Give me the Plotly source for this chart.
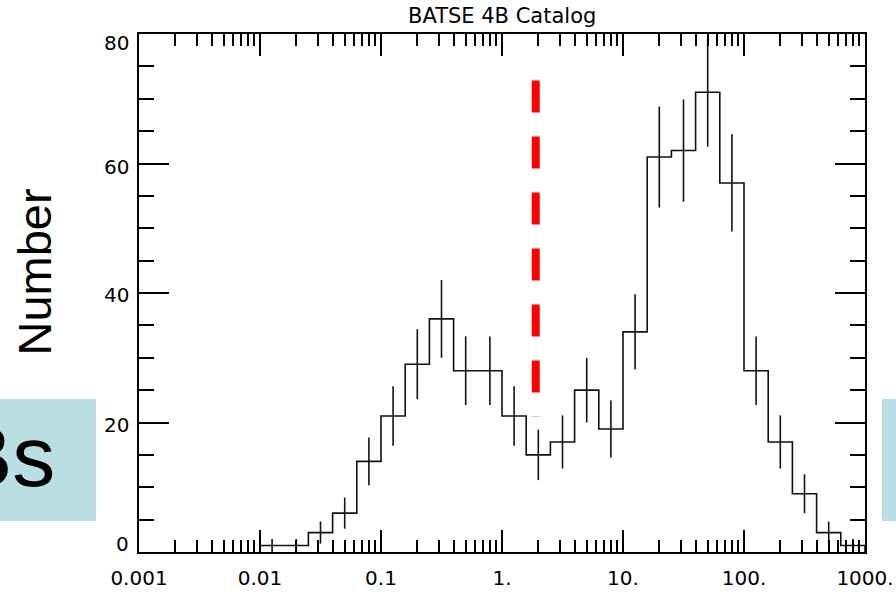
import plotly.graph_objects as go

# log10 of the T90 duration bin edges (seconds)
edge_log = [-2.0, -1.8, -1.6, -1.4, -1.2, -1.0, -0.8, -0.6, -0.4, -0.2, 0.0,
            0.2, 0.4, 0.6, 0.8, 1.0, 1.2, 1.4, 1.6, 1.8, 2.0, 2.2, 2.4, 2.6, 2.8, 3.0]
# number of bursts per bin
counts = [1, 1, 3, 6, 14, 21, 29, 36, 28, 28, 21, 15, 17, 25, 19,
          34, 61, 62, 71, 57, 28, 17, 9, 3, 1]
# Poisson uncertainty per bin
errors = [1.0, 1.0, 1.7, 2.4, 3.7, 4.6, 5.4, 6.0, 5.3, 5.3, 4.6, 3.9, 4.1, 5.0, 4.4,
          5.8, 7.8, 7.9, 8.4, 7.5, 5.3, 4.1, 3.0, 1.7, 1.0]

# short / long divide
divide_t90 = 1.9
divide_y = [72.8, 20.9]

x_tick_vals = [0.001, 0.01, 0.1, 1, 10, 100, 1000]
x_tick_text = ["0.001", "0.01", "0.1", "1.", "10.", "100.", "1000."]
y_tick_vals = [0, 20, 40, 60, 80]
y_tick_text = ["0", "20", "40", "60", "80"]

title_text = "BATSE 4B Catalog"
y_title = "Number"
side_text = "Bs"

# ---- figure geometry (pixels) ----
W, H = 896, 593
L, R, T, B = 139, 31, 34, 41
pw, ph = W - L - R, H - T - B


def px_x(px):
    return (px - L) / pw


def px_y(py):
    return (H - B - py) / ph


edges = [10 ** e for e in edge_log]
centers = [10 ** ((edge_log[i] + edge_log[i + 1]) / 2) for i in range(len(counts))]

# step outline of the histogram
step_x = [edges[0]] + edges[:-1] + [edges[-1]]
step_y = [0] + counts + [0]

fig = go.Figure()
fig.add_trace(go.Scatter(
    x=step_x, y=step_y, mode="lines", line_shape="hv",
    line=dict(color="#111111", width=1.6), hoverinfo="skip"))
fig.add_trace(go.Scatter(
    x=centers, y=counts, mode="markers",
    marker=dict(size=1, color="rgba(0,0,0,0)"),
    error_y=dict(type="data", array=errors, visible=True, width=0,
                 thickness=1.6, color="#111111")))
fig.add_trace(go.Scatter(
    x=[divide_t90, divide_t90], y=divide_y, mode="lines",
    line=dict(color="#ff0000", width=8, dash="32px,24px")))

minor_x = [m * 10.0 ** e for e in range(-3, 3) for m in range(2, 10)]
minor_y = [v for v in range(5, 80, 5) if v % 20]

tick_font = dict(family="DejaVu Sans", size=20, color="black")

fig.update_xaxes(
    type="log", range=[-3, 3], automargin=False,
    tickmode="array", tickvals=x_tick_vals, ticktext=x_tick_text,
    ticks="inside", ticklen=22, tickwidth=1.5, tickcolor="black",
    ticklabelstandoff=7,
    showline=True, linecolor="black", linewidth=1.6, mirror="ticks",
    showgrid=False, zeroline=False, tickfont=tick_font,
    minor=dict(tickmode="array", tickvals=minor_x, ticks="inside",
               ticklen=12, tickwidth=1.5, tickcolor="black", showgrid=False),
)
fig.update_yaxes(
    range=[0, 80], automargin=False, tickmode="array", tickvals=y_tick_vals,
    showticklabels=False,
    ticks="inside", ticklen=30, tickwidth=1.5, tickcolor="black",
    showline=True, linecolor="black", linewidth=1.6, mirror="ticks",
    showgrid=False, zeroline=False,
    minor=dict(tickmode="array", tickvals=minor_y, ticks="inside",
               ticklen=15, tickwidth=1.5, tickcolor="black", showgrid=False),
)

annotations = []
# y tick labels, nudged inward at the ends of the axis
label_shift = {0: 8, 20: -2, 40: -2, 60: -3, 80: -9}
for v, t in zip(y_tick_vals, y_tick_text):
    annotations.append(dict(
        text=t, xref="paper", x=0, xanchor="right", xshift=-8,
        yref="y", y=v, yanchor="middle", yshift=label_shift[v],
        showarrow=False, font=tick_font))

annotations.append(dict(
    text=title_text, xref="paper", x=0.5, xanchor="center",
    yref="paper", y=px_y(15.8), yanchor="middle", showarrow=False,
    font=dict(family="DejaVu Sans", size=21, color="black")))

annotations.append(dict(
    text=y_title, textangle=-90, xref="paper", x=px_x(34), xanchor="center",
    yref="paper", y=px_y(272.5), yanchor="middle", showarrow=False,
    font=dict(family="Liberation Sans", size=47, color="black")))

annotations.append(dict(
    text=side_text, xref="paper", x=px_x(57), xanchor="right",
    yref="paper", y=px_y(456), yanchor="middle", showarrow=False,
    font=dict(family="Liberation Sans", size=86, color="black")))

box_color = "#b9dfe2"
shapes = [
    dict(type="rect", xref="paper", yref="paper", layer="below",
         x0=px_x(-10), x1=px_x(96), y0=px_y(521), y1=px_y(399),
         fillcolor=box_color, line=dict(width=0)),
    dict(type="rect", xref="paper", yref="paper", layer="below",
         x0=px_x(882), x1=px_x(910), y0=px_y(521), y1=px_y(399),
         fillcolor=box_color, line=dict(width=0)),
]

fig.update_layout(
    width=W, height=H,
    margin=dict(l=L, r=R, t=T, b=B, pad=0, autoexpand=False),
    paper_bgcolor="white", plot_bgcolor="white",
    showlegend=False,
    annotations=annotations, shapes=shapes,
)

fig.write_html("out.html")
